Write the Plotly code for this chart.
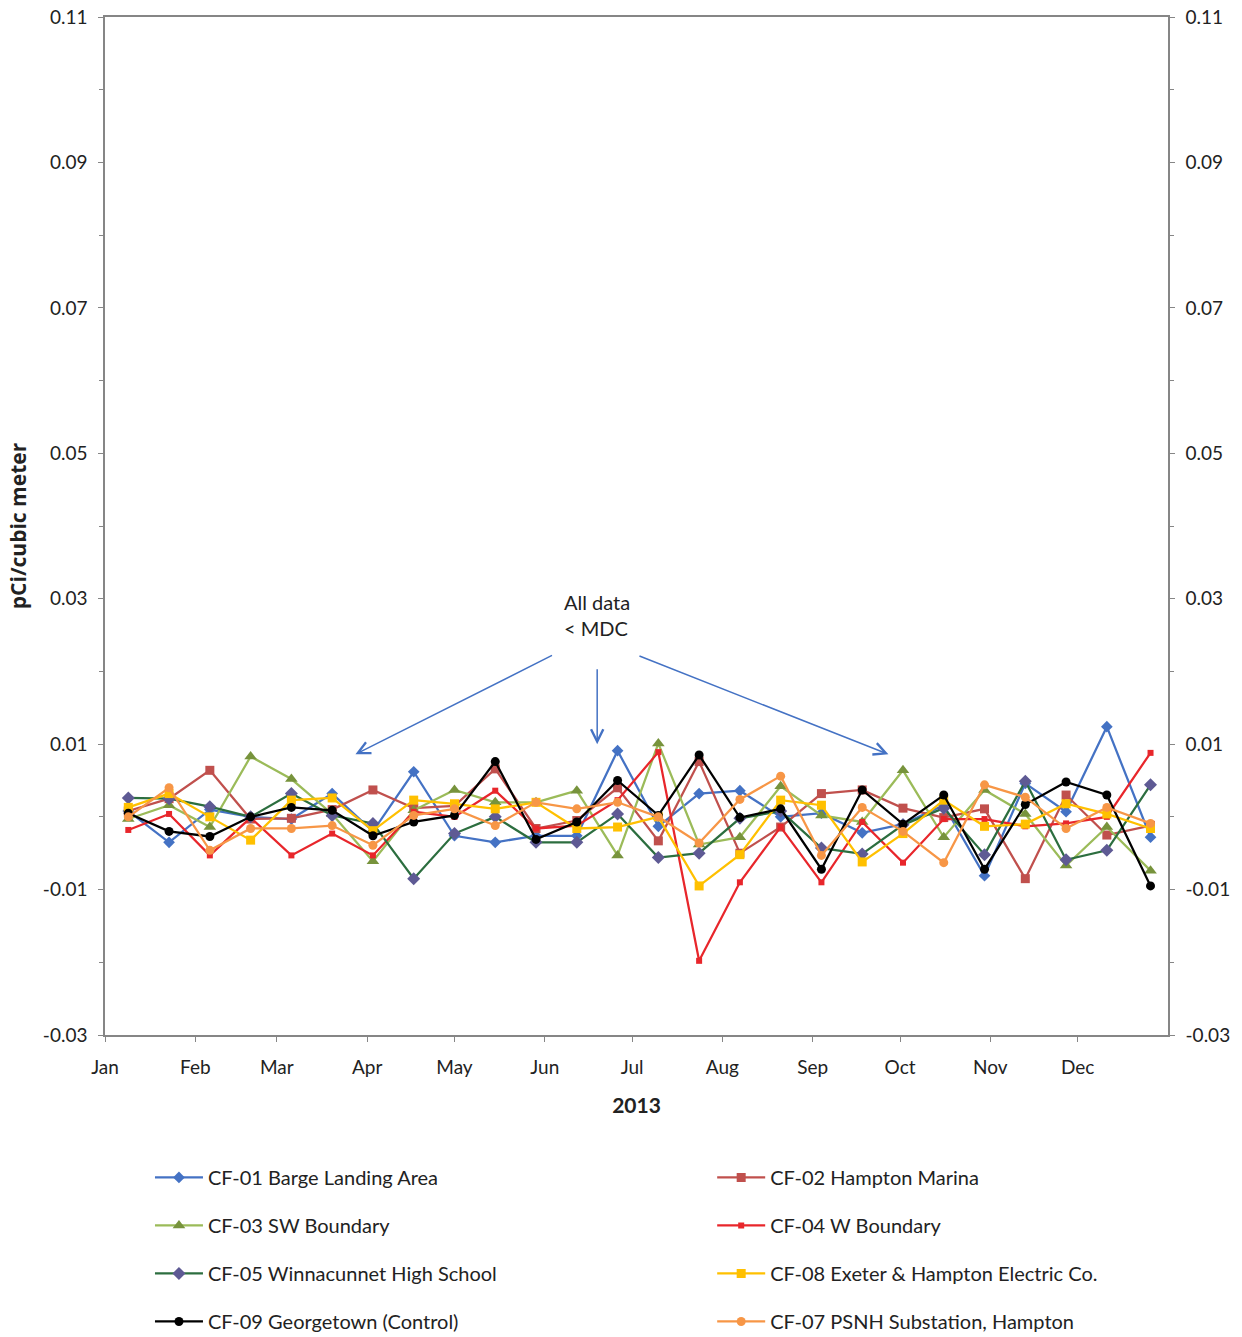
import plotly.graph_objects as go

# Biweekly air particulate sampling dates, 2013
dates = ["2013-01-09", "2013-01-23", "2013-02-06", "2013-02-20", "2013-03-06", "2013-03-20",
         "2013-04-03", "2013-04-17", "2013-05-01", "2013-05-15", "2013-05-29", "2013-06-12",
         "2013-06-26", "2013-07-10", "2013-07-24", "2013-08-07", "2013-08-21", "2013-09-04",
         "2013-09-18", "2013-10-02", "2013-10-16", "2013-10-30", "2013-11-13", "2013-11-27",
         "2013-12-11", "2013-12-26"]

# Measured activity, pCi/cubic meter
cf01 = [0.0008, -0.0035, 0.0010, 0.0000, -0.0003, 0.0032, -0.0020, 0.0062, -0.0026, -0.0035,
        -0.0026, -0.0026, 0.0091, -0.0013, 0.0032, 0.0036, 0.0000, 0.0005, -0.0022, -0.0010,
        0.0016, -0.0081, 0.0046, 0.0007, 0.0124, -0.0028]
cf02 = [0.0008, 0.0025, 0.0064, -0.0003, -0.0002, 0.0010, 0.0037, 0.0012, 0.0015, 0.0066,
        -0.0016, -0.0005, 0.0040, -0.0033, 0.0076, -0.0050, -0.0014, 0.0032, 0.0037, 0.0012,
        -0.0001, 0.0011, -0.0085, 0.0030, -0.0025, -0.0012]
cf03 = [-0.0003, 0.0016, -0.0014, 0.0083, 0.0052, 0.0004, -0.0061, 0.0009, 0.0037, 0.0020,
        0.0020, 0.0036, -0.0053, 0.0101, -0.0038, -0.0028, 0.0042, 0.0002, -0.0007, 0.0064,
        -0.0028, 0.0037, 0.0004, -0.0067, -0.0014, -0.0074]
cf04 = [-0.0018, 0.0004, -0.0053, -0.0001, -0.0053, -0.0023, -0.0053, 0.0007, 0.0000, 0.0036,
        -0.0016, -0.0012, 0.0023, 0.0089, -0.0198, -0.0090, -0.0014, -0.0090, -0.0007, -0.0063,
        -0.0003, -0.0003, -0.0013, -0.0009, 0.0000, 0.0088]
cf05 = [0.0026, 0.0025, 0.0014, 0.0000, 0.0032, 0.0002, -0.0009, -0.0085, -0.0023, 0.0000,
        -0.0035, -0.0035, 0.0004, -0.0056, -0.0050, -0.0002, 0.0008, -0.0043, -0.0051, -0.0011,
        0.0012, -0.0052, 0.0049, -0.0059, -0.0046, 0.0044]
cf08 = [0.0013, 0.0032, 0.0000, -0.0032, 0.0023, 0.0026, -0.0019, 0.0023, 0.0018, 0.0011,
        0.0020, -0.0016, -0.0014, 0.0000, -0.0095, -0.0052, 0.0023, 0.0016, -0.0062, -0.0023,
        0.0023, -0.0013, -0.0010, 0.0018, 0.0004, -0.0016]
cf09 = [0.0005, -0.0020, -0.0027, 0.0000, 0.0013, 0.0009, -0.0026, -0.0007, 0.0002, 0.0076,
        -0.0031, -0.0007, 0.0050, 0.0002, 0.0085, -0.0001, 0.0011, -0.0072, 0.0037, -0.0010,
        0.0030, -0.0072, 0.0017, 0.0048, 0.0030, -0.0095]
cf07 = [0.0000, 0.0040, -0.0046, -0.0016, -0.0016, -0.0012, -0.0039, 0.0002, 0.0011, -0.0012,
        0.0020, 0.0011, 0.0020, 0.0000, -0.0036, 0.0024, 0.0056, -0.0053, 0.0013, -0.0020,
        -0.0063, 0.0044, 0.0027, -0.0016, 0.0013, -0.0009]

# Axis ticks
month_starts = ["2013-%02d-01" % m for m in range(1, 13)]
month_labels = ["Jan", "Feb", "Mar", "Apr", "May", "Jun",
                "Jul", "Aug", "Sep", "Oct", "Nov", "Dec"]
y_ticks = [-0.03, -0.01, 0.01, 0.03, 0.05, 0.07, 0.09, 0.11]
y_labels = ["-0.03", "-0.01", "0.01", "0.03", "0.05", "0.07", "0.09", "0.11"]

FONT = "Lato"
TEXT = "#222222"
AXIS_COLOR = "#868686"

series = [
    # name, values, line colour, marker colour, symbol, marker size, legend
    ("CF-01 Barge Landing Area", cf01, "#4472C4", "#4472C4", "diamond", 9, "legend"),
    ("CF-02 Hampton Marina", cf02, "#C0504D", "#C0504D", "square", 9, "legend2"),
    ("CF-03 SW Boundary", cf03, "#9BBB59", "#77933C", "triangle-up", 11, "legend"),
    ("CF-04 W Boundary", cf04, "#E8262B", "#E8262B", "square", 6, "legend2"),
    ("CF-05 Winnacunnet High School", cf05, "#2C6E3F", "#5E5A94", "diamond", 10, "legend"),
    ("CF-08 Exeter & Hampton Electric Co.", cf08, "#FFC000", "#FFC000", "square", 9, "legend2"),
    ("CF-09 Georgetown (Control)", cf09, "#000000", "#000000", "circle", 9, "legend"),
    ("CF-07 PSNH Substation, Hampton", cf07, "#F79646", "#F79646", "circle", 9, "legend2"),
]

fig = go.Figure()
for name, vals, lc, mc, sym, ms, lg in series:
    fig.add_trace(go.Scatter(
        x=dates, y=vals, name=name, mode="lines+markers",
        line=dict(color=lc, width=2.25),
        marker=dict(color=mc, symbol=sym, size=ms, line=dict(width=0)),
        legend=lg, legendgroup=name,
    ))

# Invisible companion trace so the mirrored right-hand value axis is rendered
fig.add_trace(go.Scatter(x=dates[:1], y=cf01[:1], yaxis="y2", mode="markers",
                         marker=dict(opacity=0), showlegend=False, hoverinfo="skip"))

# Callout pointing at the data band
callouts = [
    ("2013-06-04", 0.0223, "2013-03-28", 0.0086),
    ("2013-06-19", 0.0205, "2013-06-19", 0.0100),
    ("2013-07-03", 0.0222, "2013-09-27", 0.0086),
]
for tx, ty, hx, hy in callouts:
    fig.add_annotation(x=hx, y=hy, ax=tx, ay=ty, xref="x", yref="y", axref="x", ayref="y",
                       showarrow=True, arrowhead=5, arrowsize=1.6, arrowwidth=1.5,
                       arrowcolor="#4472C4", text="")
fig.add_annotation(x="2013-06-19", y=0.0277, xref="x", yref="y", showarrow=False,
                   text="All data<br>&lt; MDC", align="left",
                   font=dict(family=FONT, size=20, color=TEXT))

yax = dict(range=[-0.03, 0.11], tickmode="array", tickvals=y_ticks, ticktext=y_labels,
           ticks="outside", ticklen=5, tickcolor=AXIS_COLOR, ticklabelstandoff=7,
           showgrid=False, zeroline=False,
           showline=True, linecolor=AXIS_COLOR, linewidth=1.5,
           minor=dict(dtick=0.01, tick0=-0.03, ticks="outside", ticklen=4,
                      tickcolor=AXIS_COLOR, showgrid=False),
           tickfont=dict(family=FONT, size=19, color=TEXT))

fig.update_layout(
    width=1242, height=1337,
    margin=dict(l=105, r=74, t=17, b=302, autoexpand=False),
    paper_bgcolor="white", plot_bgcolor="white",
    font=dict(family=FONT, color=TEXT),
    xaxis=dict(type="date", range=["2013-01-01", "2014-01-01"], tickmode="array",
               tickvals=month_starts, ticktext=month_labels, ticks="outside", ticklen=5,
               tickcolor=AXIS_COLOR, ticklabelstandoff=9, showgrid=False, zeroline=False,
               showline=True, linecolor=AXIS_COLOR, linewidth=1.5, mirror=True,
               tickfont=dict(family=FONT, size=19, color=TEXT),
               title=dict(text="<b>2013</b>", standoff=22,
                          font=dict(family=FONT, size=21, color=TEXT))),
    yaxis=dict(**yax, title=dict(text="<b>pCi/cubic meter</b>", standoff=10,
                                 font=dict(family="Open Sans", size=21, color=TEXT))),
    yaxis2=dict(**yax, overlaying="y", side="right", anchor="x"),
    legend=dict(x=0.0423, y=-0.1208, xanchor="left", yanchor="top", tracegroupgap=19,
                font=dict(family=FONT, size=20, color=TEXT), bgcolor="rgba(0,0,0,0)",
                itemwidth=48),
    legend2=dict(x=0.5712, y=-0.1208, xanchor="left", yanchor="top", tracegroupgap=19,
                 font=dict(family=FONT, size=20, color=TEXT), bgcolor="rgba(0,0,0,0)",
                 itemwidth=48),
    showlegend=True,
)

fig.write_html("out.html")
